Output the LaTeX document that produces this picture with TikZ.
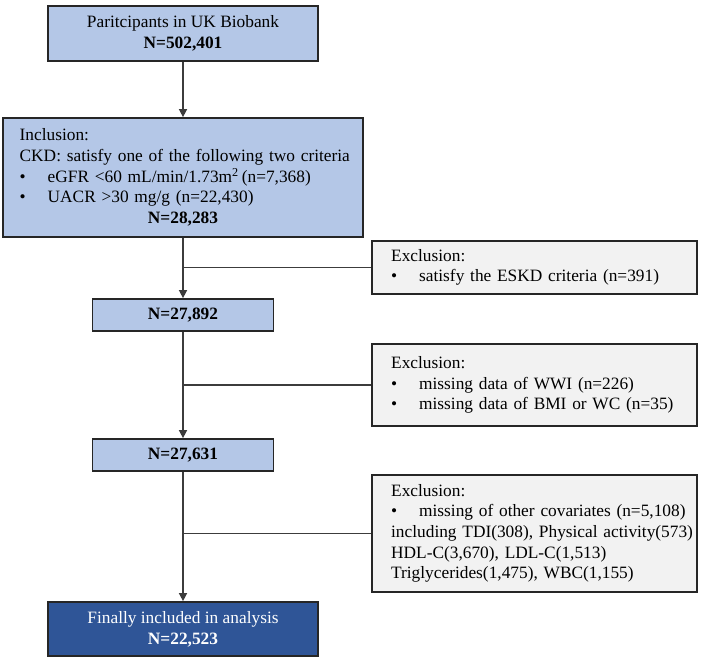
\documentclass[tikz,border=0pt]{standalone}
\usepackage{fontspec}
\setmainfont{Liberation Serif}
\usepackage{xcolor}
\usetikzlibrary{arrows.meta,positioning}

\definecolor{stepblue}{HTML}{B4C7E7}
\definecolor{finalblue}{HTML}{2F5597}
\definecolor{exgray}{HTML}{F2F2F2}
\definecolor{edgegray}{HTML}{262626}

\newcommand{\bul}{\makebox[21pt][l]{\textbullet}}

\begin{document}
\begin{tikzpicture}[
    x=0.75pt,
    y=-0.75pt,
    font=\fontsize{13}{15.5}\selectfont,
    >={Triangle[width=6pt,length=6pt]},
    stage/.style={
      draw=edgegray,
      line width=1.3pt,
      fill=stepblue,
      align=center,
      inner sep=0pt
    },
    final/.style={
      draw=edgegray,
      line width=1.3pt,
      fill=finalblue,
      text=white,
      align=center,
      inner sep=0pt
    },
    exclude/.style={
      draw=edgegray,
      line width=1.3pt,
      fill=exgray,
      minimum width=243.75pt,
      text width=215pt,
      align=left,
      inner xsep=14pt,
      inner ysep=0pt
    },
    flow/.style={draw=edgegray!90,line width=1.1pt}
  ]
  \useasboundingbox (0,0) rectangle (702,660);

  % ========== Main flow ==========
  \node[stage,minimum width=202.5pt,minimum height=41pt] (part) at (183,33.5)
    {Paritcipants in UK Biobank\\\textbf{N=502,401}};

  \node[stage,minimum width=270pt,minimum height=89.25pt,text width=245pt,
    align=left] (incl) at (183,177.5)
    {Inclusion:\\
     \mbox{CKD: satisfy one of the following two criteria}\\
     \mbox{\bul eGFR <60 mL/min/1.73m\textsuperscript{2}\,(n=7,368)}\\
     \mbox{\bul UACR >30 mg/g (n=22,430)}\\
     \makebox[\hsize][c]{\textbf{N=28,283}}};

  \node[stage,minimum width=135.75pt,minimum height=24pt] (n1) at (183,315)
    {\textbf{N=27,892}};
  \node[stage,minimum width=135.75pt,minimum height=24pt] (n2) at (183,455)
    {\textbf{N=27,631}};
  \node[final,minimum width=203pt,minimum height=40.5pt] (fin) at (183,629)
    {Finally included in analysis\\\textbf{N=22,523}};

  % ========== Exclusions ==========
  \node[exclude,minimum height=39.75pt] (ex1) at (534.5,267.5)
    {Exclusion:\\
     \mbox{\bul satisfy the ESKD criteria (n=391)}};
  \node[exclude,minimum height=61.5pt] (ex2) at (534.5,385)
    {Exclusion:\\
     \mbox{\bul missing data of WWI (n=226)}\\
     \mbox{\bul missing data of BMI or WC (n=35)}};
  \node[exclude,minimum height=87.75pt] (ex3) at (534.5,533.5)
    {Exclusion:\\
     \mbox{\bul missing of other covariates (n=5,108)}\\
     \mbox{including TDI(308), Physical activity(573)}\\
     \mbox{HDL-C(3,670), LDL-C(1,513)}\\
     \mbox{Triglycerides(1,475), WBC(1,155)}};

  % ========== Connectors ==========
  \draw[flow,->] (part) -- (incl);
  \draw[flow,->] (incl) -- (n1);
  \draw[flow,->] (n1) -- (n2);
  \draw[flow,->] (n2) -- (fin);

  \draw[flow] (incl.south |- ex1.west) -- (ex1.west);
  \draw[flow] (n1.south |- ex2.west) -- (ex2.west);
  \draw[flow] (n2.south |- ex3.west) -- (ex3.west);
\end{tikzpicture}
\end{document}
